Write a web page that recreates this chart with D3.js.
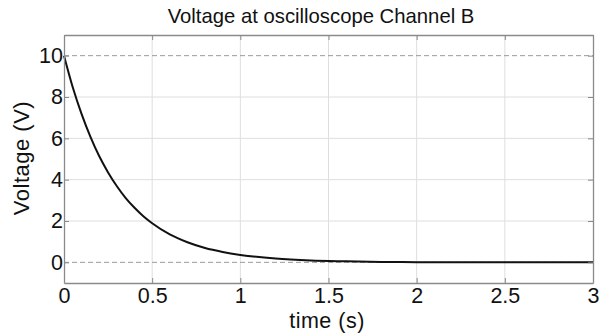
<!doctype html>
<html lang="en">
<head>
<meta charset="utf-8">
<title>Voltage at oscilloscope Channel B</title>
<script src="https://cdn.jsdelivr.net/npm/d3@7"></script>
<style>
  body { margin: 0; background: #fff; }
  text { font-family: "Liberation Sans", Arial, sans-serif; fill: #111; }
</style>
</head>
<body>
<svg id="chart" width="602" height="335"></svg>
<script>
// values
var timeS = [0, 0.05, 0.1, 0.15, 0.2, 0.25, 0.3, 0.35, 0.4, 0.45, 0.5, 0.6, 0.7, 0.8, 0.9, 1.0, 1.2, 1.4, 1.6, 1.8, 2.0, 2.5, 3.0];
var voltage = [10, 8.46, 7.17, 6.07, 5.13, 4.35, 3.68, 3.11, 2.64, 2.23, 1.89, 1.35, 0.97, 0.69, 0.5, 0.36, 0.18, 0.09, 0.05, 0.02, 0.01, 0, 0];
var xTicks = [0, 0.5, 1, 1.5, 2, 2.5, 3];
var yTicks = [0, 2, 4, 6, 8, 10];
var refLines = [0, 10];

(function () {
  var svg = d3.select("#chart");
  var mLeft = 64, mRight = 593, mTop = 35, mBottom = 283;

  var x = d3.scaleLinear().domain([0, 3]).range([mLeft, mRight]);
  var y = d3.scaleLinear().domain([-1, 11]).range([mBottom, mTop]);

  // grid
  svg.append("g").selectAll("line").data(xTicks.slice(1, -1)).enter().append("line")
    .attr("x1", d => x(d)).attr("x2", d => x(d))
    .attr("y1", mTop).attr("y2", mBottom)
    .style("stroke", "#dedede").style("stroke-width", 1);
  svg.append("g").selectAll("line").data(yTicks.filter(d => refLines.indexOf(d) < 0)).enter().append("line")
    .attr("x1", mLeft).attr("x2", mRight)
    .attr("y1", d => y(d)).attr("y2", d => y(d))
    .style("stroke", "#dedede").style("stroke-width", 1);

  // dashed reference lines at 0 and 10
  svg.append("g").selectAll("line").data(refLines).enter().append("line")
    .attr("x1", mLeft).attr("x2", mRight)
    .attr("y1", d => y(d)).attr("y2", d => y(d))
    .style("stroke", "#9a9a9a").style("stroke-width", 1)
    .style("stroke-dasharray", "5,3");

  // curve
  var pts = timeS.map((t, i) => [t, voltage[i]]);
  svg.append("path").datum(pts)
    .attr("d", d3.line().x(d => x(d[0])).y(d => y(d[1])).curve(d3.curveMonotoneX))
    .style("fill", "none").style("stroke", "#111").style("stroke-width", 2);

  // axes box with inward ticks on all four sides
  var bottomAxis = d3.axisBottom(x).tickValues(xTicks).tickSizeInner(-5).tickSizeOuter(0).tickPadding(5).tickFormat(d3.format("~g"));
  var topAxis = d3.axisTop(x).tickValues(xTicks).tickSizeInner(-5).tickSizeOuter(0).tickFormat("");
  var leftAxis = d3.axisLeft(y).tickValues(yTicks).tickSizeInner(-5).tickSizeOuter(0).tickPadding(1);
  var rightAxis = d3.axisRight(y).tickValues(yTicks).tickSizeInner(-5).tickSizeOuter(0).tickFormat("");

  [[bottomAxis, "translate(0," + mBottom + ")"], [topAxis, "translate(0," + mTop + ")"],
   [leftAxis, "translate(" + mLeft + ",0)"], [rightAxis, "translate(" + mRight + ",0)"]].forEach(a => {
    var g = svg.append("g").attr("transform", a[1]).call(a[0]);
    g.select(".domain").style("stroke", "#8a8a8a").style("stroke-width", 1.3);
    g.selectAll(".tick line").style("stroke", "#8a8a8a");
    g.selectAll(".tick text").style("font-size", "21.5px").style("font-family", "Liberation Sans, Arial, sans-serif").style("fill", "#111");
  });

  // labels
  svg.append("text").attr("x", 321).attr("y", 23).attr("text-anchor", "middle")
    .style("font-size", "20.3px").text("Voltage at oscilloscope Channel B");
  svg.append("text").attr("x", 327).attr("y", 328).attr("text-anchor", "middle")
    .style("font-size", "21.5px").style("letter-spacing", "0.5px").text("time (s)");
  svg.append("text").attr("transform", "translate(29,158) rotate(-90)").attr("text-anchor", "middle")
    .style("font-size", "22px").style("letter-spacing", "0.5px").text("Voltage (V)");
})();
</script>
</body>
</html>
